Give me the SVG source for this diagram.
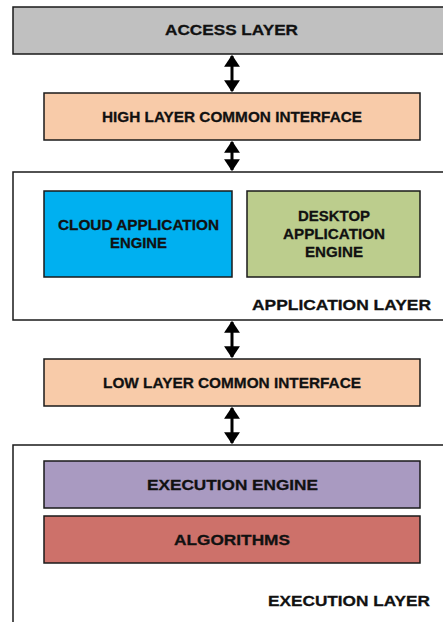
<svg xmlns="http://www.w3.org/2000/svg" width="443" height="622" viewBox="0 0 443 622">
<defs>
<style>
.box{stroke:#1a1a1a;stroke-width:1.5}
.t{font-family:"Liberation Sans",Arial,sans-serif;font-weight:bold;font-size:15.5px;fill:#111;stroke:#111;stroke-width:0.3;text-anchor:middle}
.c{stroke:#000;stroke-width:3;fill:none;marker-start:url(#ah);marker-end:url(#ah)}
</style>
<marker id="ah" viewBox="0 0 10 10" refX="9" refY="5" markerWidth="4" markerHeight="5.3" orient="auto-start-reverse" markerUnits="strokeWidth" preserveAspectRatio="none">
<path d="M0,0 L10,5 L0,10 Z" fill="#000"/>
</marker>
</defs>
<rect width="443" height="622" fill="#fff"/>
<g id="access">
<rect class="box" x="13" y="7" width="440" height="47" fill="#c0c0c0"/>
<text class="t" x="231.5" y="35" textLength="133" lengthAdjust="spacingAndGlyphs">ACCESS LAYER</text>
</g>
<g id="high">
<rect class="box" x="44" y="93" width="376" height="47" fill="#f8cba9"/>
<text class="t" x="232" y="122" textLength="260" lengthAdjust="spacingAndGlyphs">HIGH LAYER COMMON INTERFACE</text>
</g>
<g id="application-layer">
<rect class="box" x="13" y="172" width="440" height="148" fill="#fff"/>
<text class="t" x="341.5" y="310" textLength="179" lengthAdjust="spacingAndGlyphs">APPLICATION LAYER</text>
</g>
<g id="cloud">
<rect class="box" x="44" y="191" width="188" height="86" fill="#00b0f0"/>
<text class="t" x="138.5" y="230" textLength="161" lengthAdjust="spacingAndGlyphs">CLOUD APPLICATION</text>
<text class="t" x="138.5" y="248" textLength="57" lengthAdjust="spacingAndGlyphs">ENGINE</text>
</g>
<g id="desktop">
<rect class="box" x="247" y="191" width="173" height="86" fill="#bccd8d"/>
<text class="t" x="334" y="221" textLength="72" lengthAdjust="spacingAndGlyphs">DESKTOP</text>
<text class="t" x="334" y="239" textLength="102" lengthAdjust="spacingAndGlyphs">APPLICATION</text>
<text class="t" x="334" y="257" textLength="58" lengthAdjust="spacingAndGlyphs">ENGINE</text>
</g>
<g id="low">
<rect class="box" x="44" y="359" width="376" height="47" fill="#f8cba9"/>
<text class="t" x="232" y="388" textLength="258" lengthAdjust="spacingAndGlyphs">LOW LAYER COMMON INTERFACE</text>
</g>
<g id="execution-layer">
<rect class="box" x="13" y="445" width="440" height="190" fill="#fff"/>
<text class="t" x="349" y="606" textLength="162" lengthAdjust="spacingAndGlyphs">EXECUTION LAYER</text>
</g>
<g id="execution-engine">
<rect class="box" x="44" y="461" width="376" height="47" fill="#a99ac1"/>
<text class="t" x="232.5" y="490" textLength="171" lengthAdjust="spacingAndGlyphs">EXECUTION ENGINE</text>
</g>
<g id="algorithms">
<rect class="box" x="44" y="516" width="376" height="47" fill="#cd716a"/>
<text class="t" x="232" y="545" textLength="116" lengthAdjust="spacingAndGlyphs">ALGORITHMS</text>
</g>
<g id="connectors">
<line class="c" x1="232" y1="56" x2="232" y2="91"/>
<line class="c" x1="232" y1="142" x2="232" y2="170"/>
<line class="c" x1="232" y1="322" x2="232" y2="357"/>
<line class="c" x1="232" y1="408" x2="232" y2="443"/>
</g>
</svg>
